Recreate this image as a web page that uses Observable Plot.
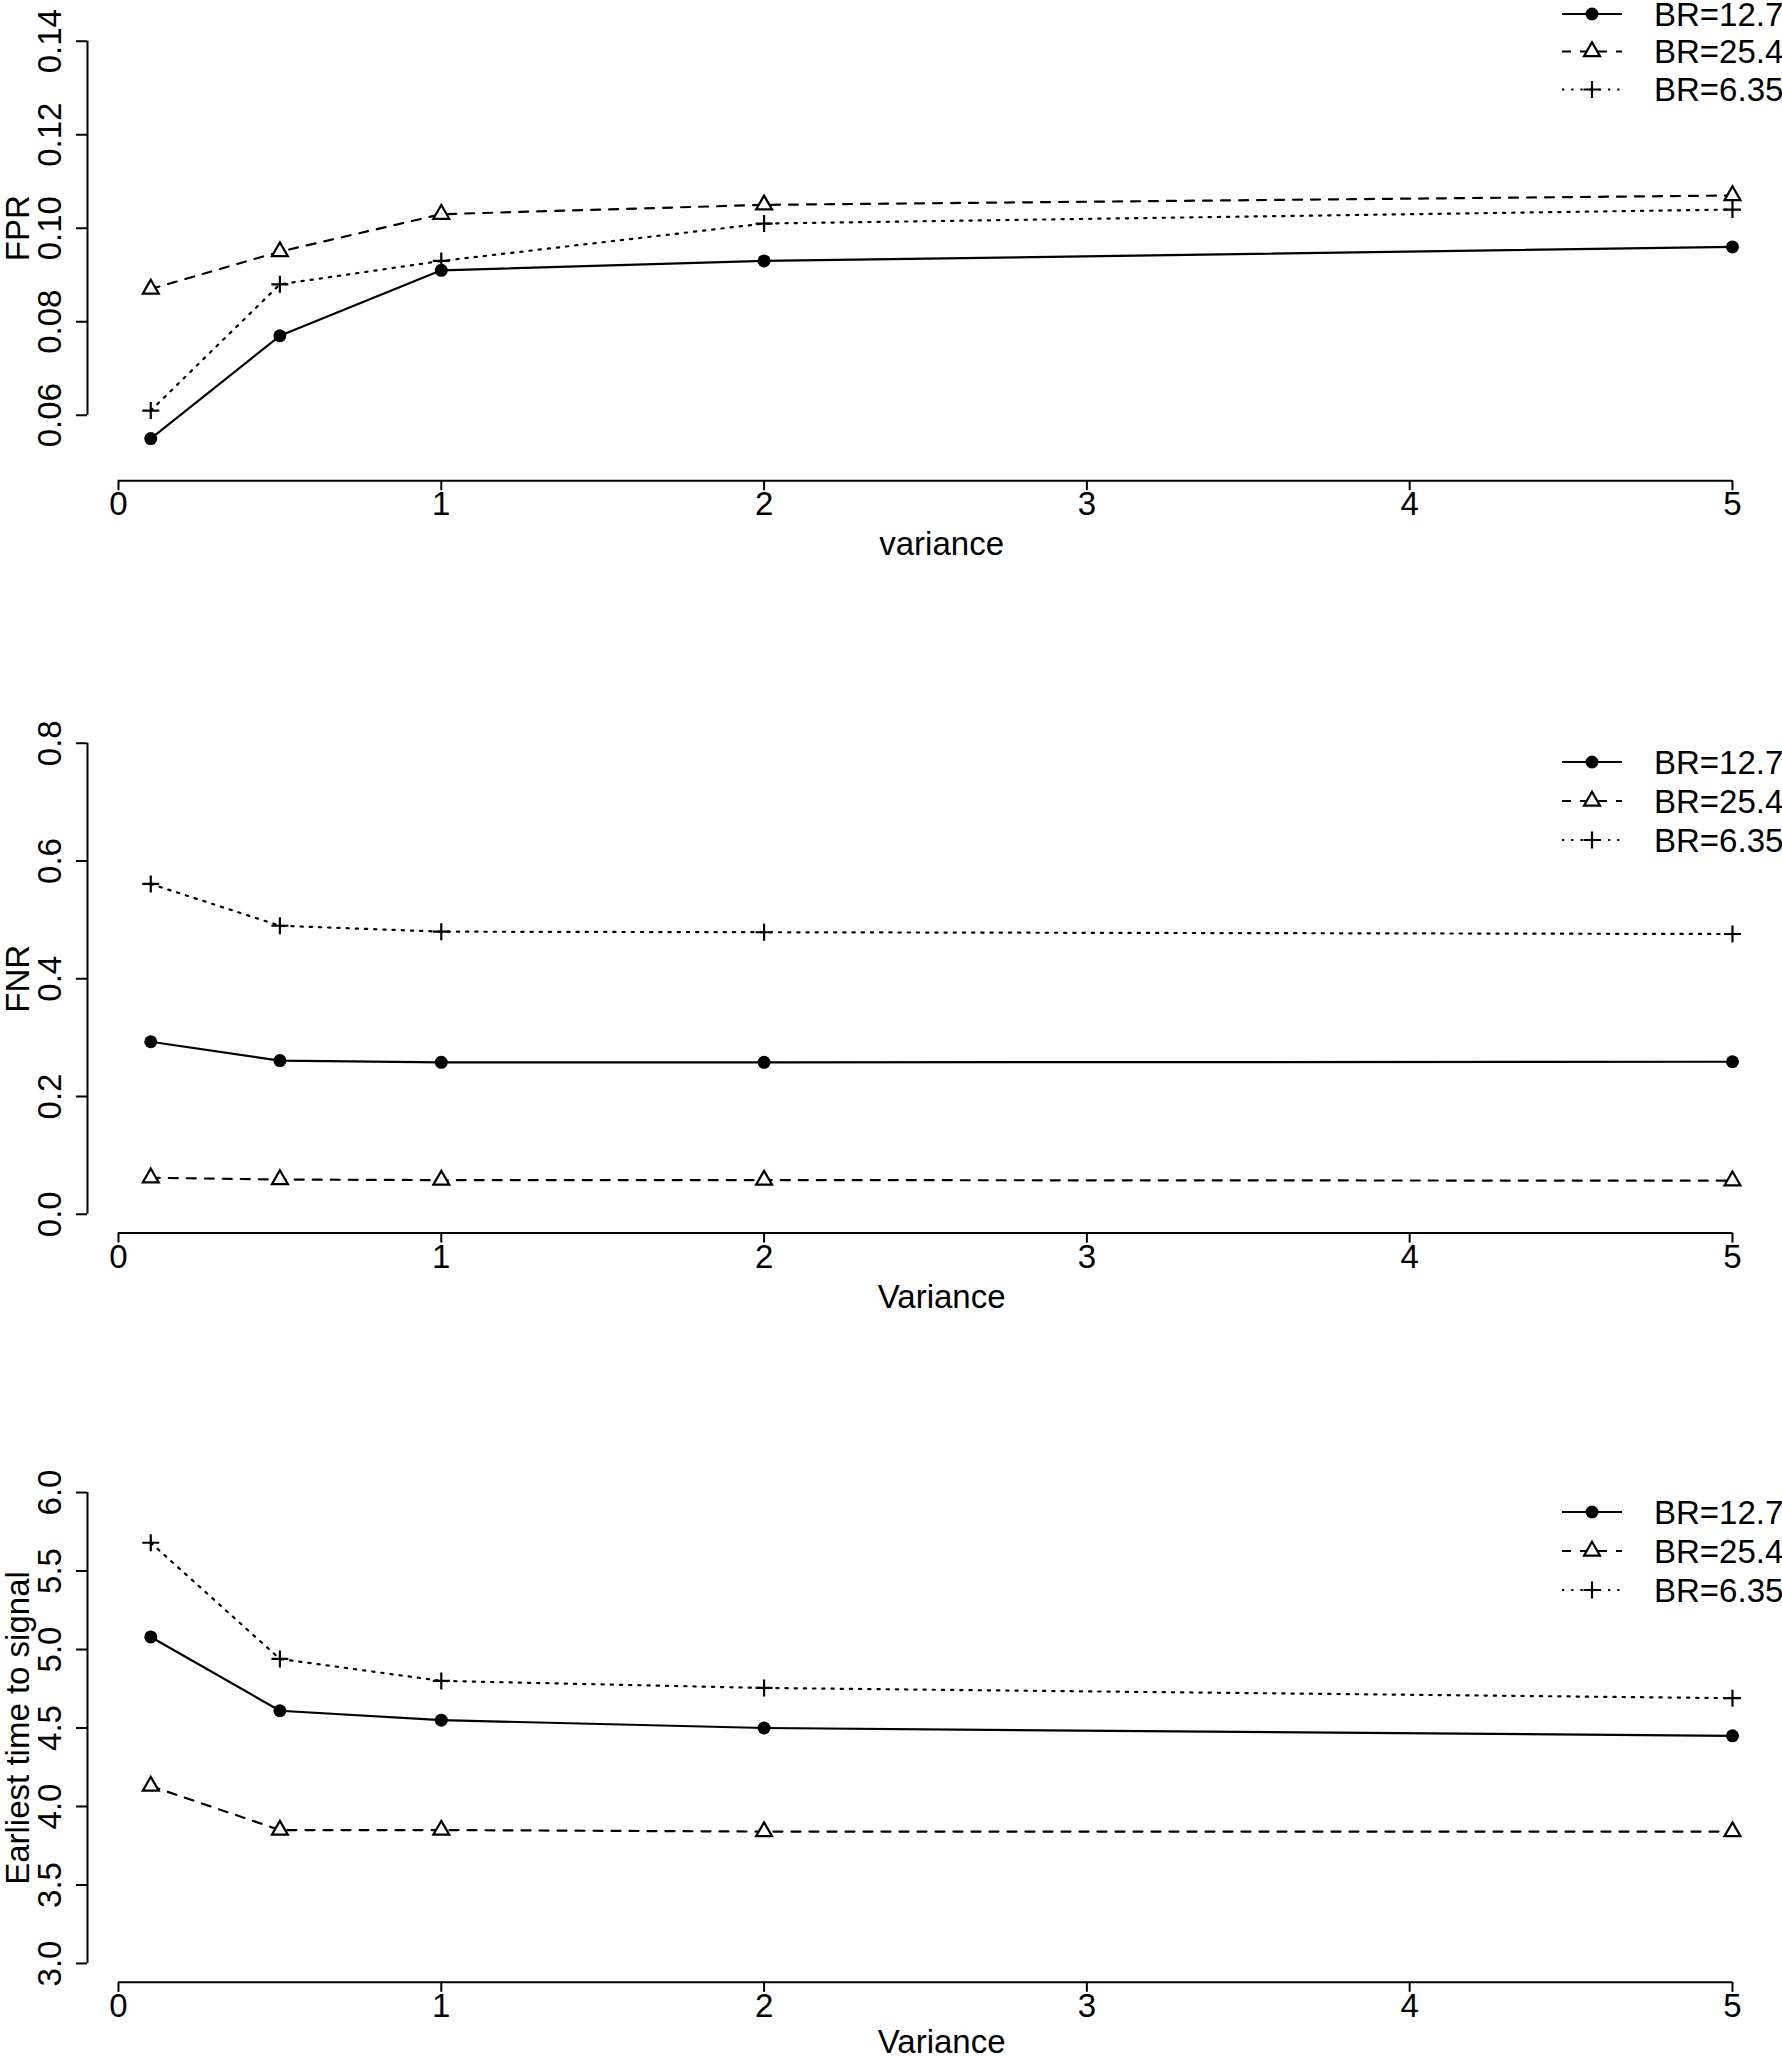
<!DOCTYPE html>
<html><head><meta charset="utf-8">
<script src="https://cdn.jsdelivr.net/npm/d3@7"></script>
<script src="https://cdn.jsdelivr.net/npm/@observablehq/plot@0.6"></script>
<style>
html,body{margin:0;padding:0;background:#fff;}
#wrap{position:relative;width:1782px;height:2058px;overflow:hidden;background:#fff;}
#wrap svg{position:absolute;left:0;}
</style></head><body><div id="wrap"></div>
<script>
// ---- data ----
const variance = [0.1, 0.5, 1, 2, 5];
const seriesNames = ["BR=12.7", "BR=25.4", "BR=6.35"];

const fpr127 = [0.055, 0.077, 0.091, 0.093, 0.096];
const fpr254 = [0.087, 0.095, 0.103, 0.105, 0.107];
const fpr635 = [0.061, 0.088, 0.093, 0.101, 0.104];

const fnr127 = [0.293, 0.261, 0.258, 0.258, 0.259];
const fnr254 = [0.062, 0.059, 0.058, 0.058, 0.057];
const fnr635 = [0.561, 0.490, 0.480, 0.479, 0.476];

const ett127 = [5.08, 4.61, 4.55, 4.50, 4.45];
const ett254 = [4.13, 3.85, 3.85, 3.84, 3.84];
const ett635 = [5.68, 4.94, 4.80, 4.755, 4.69];

const xTicks = [0, 1, 2, 3, 4, 5];
const xTickLabels = ["0", "1", "2", "3", "4", "5"];
const fprTicks = [0.06, 0.08, 0.10, 0.12, 0.14];
const fprTickLabels = ["0.06", "0.08", "0.10", "0.12", "0.14"];
const fnrTicks = [0.0, 0.2, 0.4, 0.6, 0.8];
const fnrTickLabels = ["0.0", "0.2", "0.4", "0.6", "0.8"];
const ettTicks = [3.0, 3.5, 4.0, 4.5, 5.0, 5.5, 6.0];
const ettTickLabels = ["3.0", "3.5", "4.0", "4.5", "5.0", "5.5", "6.0"];

// ---- styles ----
const FONT = '"Liberation Sans", Arial, Helvetica, sans-serif';
const FS = 33;
const LW = 2.2;
const plusSymbol = {draw(ctx, size) { const r = Math.sqrt(size / Math.PI);
  ctx.moveTo(-r, 0); ctx.lineTo(r, 0); ctx.moveTo(0, -r); ctx.lineTo(0, r); }};
const triSymbol = {draw(ctx, size) { const r = Math.sqrt(size / Math.PI); const h = r * Math.sqrt(3) / 2;
  ctx.moveTo(0, -r); ctx.lineTo(h, r / 2); ctx.lineTo(-h, r / 2); ctx.closePath(); }};
const seriesStyle = [
  {dash: null, symbol: "circle", r: 6.5, fill: "black", stroke: "none"},
  {dash: "9,9", symbol: triSymbol, r: 9.2, fill: "white", stroke: "black"},
  {dash: "2.3,6.9", symbol: plusSymbol, r: 8.5, fill: "none", stroke: "black"}
];

const xDomain = [-0.096, 5.155];

const panels = [
  {top: 0, height: 700, mt: 23.9, mb: 219.8, yDomain: [0.046, 0.1436], ticks: fprTicks, tickLabels: fprTickLabels,
   yTitle: "FPR", yMid: 0.10, xTitle: "variance", xTitleDy: 64, values: [fpr127, fpr254, fpr635], legendRows: [14, 51.5, 89.5]},
  {top: 700, height: 750, mt: 23.9, mb: 217.4, yDomain: [-0.032, 0.832], ticks: fnrTicks, tickLabels: fnrTickLabels,
   yTitle: "FNR", yMid: 0.4, xTitle: "Variance", xTitleDy: 64, values: [fnr127, fnr254, fnr635], legendRows: [762, 801, 840]},
  {top: 1450, height: 608, mt: 23.2, mb: 76.2, yDomain: [2.88, 6.12], ticks: ettTicks, tickLabels: ettTickLabels,
   yTitle: "Earliest time to signal", yMid: 4.5, xTitle: "Variance", xTitleDy: 60, values: [ett127, ett254, ett635], legendRows: [1512, 1551, 1590]}
];

const wrap = document.getElementById("wrap");

for (const p of panels) {
  const marks = [];
  p.values.forEach((vals, si) => {
    const rows = variance.map((v, i) => ({v, val: vals[i], s: seriesNames[si]}));
    const st = seriesStyle[si];
    const lineOpts = {x: "v", y: "val", stroke: "black", strokeWidth: LW};
    if (st.dash) lineOpts.strokeDasharray = st.dash;
    marks.push(Plot.line(rows, lineOpts));
    marks.push(Plot.dot(rows, {x: "v", y: "val", symbol: st.symbol, r: st.r, fill: st.fill,
      stroke: st.stroke, strokeWidth: LW}));
  });
  // axes (R style: line from first to last tick)
  marks.push(Plot.ruleX([xDomain[0]], {y1: p.ticks[0], y2: p.ticks[p.ticks.length - 1], stroke: "black", strokeWidth: 2}));
  marks.push(Plot.ruleY([p.yDomain[0]], {x1: xTicks[0], x2: xTicks[xTicks.length - 1], stroke: "black", strokeWidth: 2}));
  marks.push(Plot.axisY(p.ticks, {anchor: "left", tickSize: 11, strokeWidth: 2, tickFormat: () => ""}));
  marks.push(Plot.text(p.ticks, {frameAnchor: "left", y: d => d, text: (d, i) => p.tickLabels[i],
    rotate: -90, textAnchor: "middle", lineAnchor: "middle", dx: -37, fontSize: FS, fill: "black"}));
  marks.push(Plot.axisX(xTicks, {anchor: "bottom", tickSize: 10, tickPadding: 1, strokeWidth: 2,
    tickFormat: (d, i) => xTickLabels[i], fontSize: FS, fill: "black"}));
  marks.push(Plot.text([p.xTitle], {x: (xDomain[0] + 5.196) / 2, frameAnchor: "bottom", dy: p.xTitleDy, text: d => d,
    lineAnchor: "middle", textAnchor: "middle", fontSize: FS, fill: "black"}));
  marks.push(Plot.text([p.yTitle], {frameAnchor: "left", y: p.yMid, text: d => d, rotate: -90, dx: -69,
    textAnchor: "middle", lineAnchor: "middle", fontSize: FS, fill: "black"}));

  const chart = Plot.plot({
    width: 1782, height: p.height,
    marginLeft: 87, marginRight: 0, marginTop: p.mt, marginBottom: p.mb,
    x: {domain: xDomain, label: null},
    y: {domain: p.yDomain, label: null},
    style: {fontFamily: FONT, fontSize: FS + "px", background: "transparent", color: "black", overflow: "visible"},
    marks
  });
  chart.style.top = p.top + "px";
  wrap.appendChild(chart);
}

// ---- legends (overlay) ----
const leg = d3.create("svg").attr("width", 1782).attr("height", 2058)
  .style("position", "absolute").style("top", "0px").style("left", "0px");
const lx0 = 1562, lx1 = 1622, lsx = 1592, ltx = 1654;
for (const p of panels) {
  p.legendRows.forEach((ry, si) => {
    const st = seriesStyle[si];
    const g = leg.append("g");
    const ln = g.append("line").attr("x1", lx0).attr("x2", lx1).attr("y1", ry).attr("y2", ry)
      .attr("stroke", "black").attr("stroke-width", LW);
    if (st.dash) ln.attr("stroke-dasharray", st.dash);
    const sym = typeof st.symbol === "string" ? d3.symbolCircle : st.symbol;
    g.append("path").attr("transform", `translate(${lsx},${ry})`)
      .attr("d", d3.symbol(sym, Math.PI * st.r * st.r)())
      .attr("fill", st.fill).attr("stroke", st.stroke).attr("stroke-width", LW);
    g.append("text").attr("x", ltx).attr("y", ry).attr("dy", "0.35em")
      .attr("font-family", FONT).attr("font-size", FS).attr("fill", "black").text(seriesNames[si]);
  });
}
wrap.appendChild(leg.node());
</script></body></html>
